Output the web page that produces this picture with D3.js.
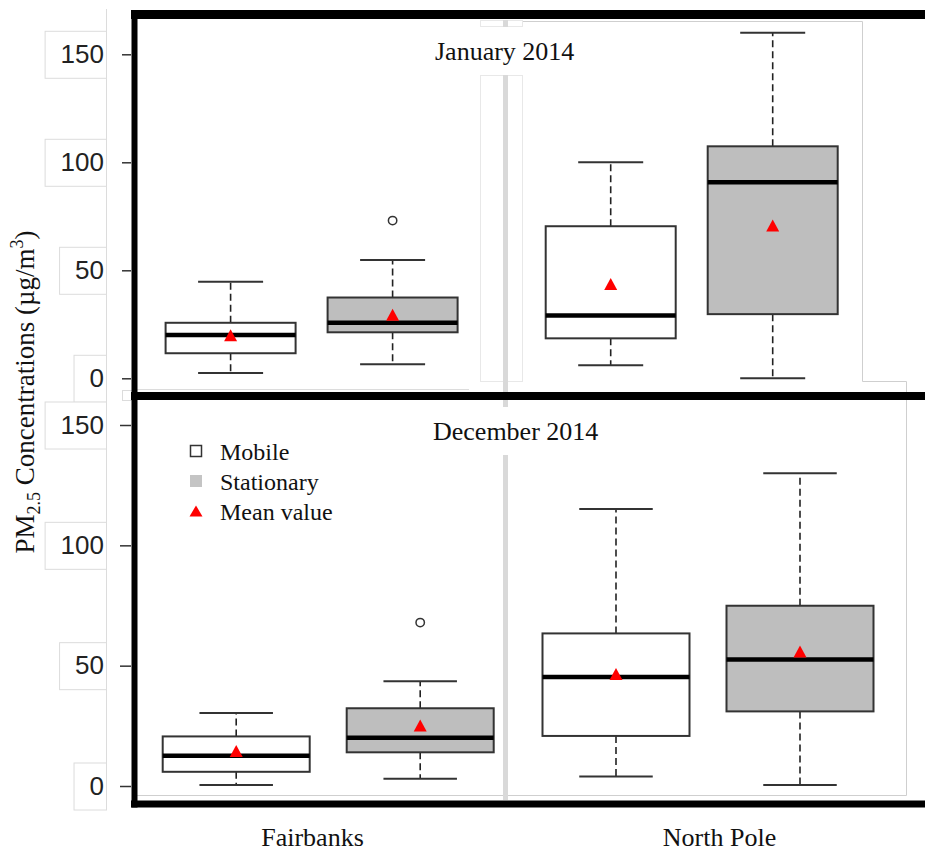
<!DOCTYPE html>
<html>
<head>
<meta charset="utf-8">
<script src="https://cdn.jsdelivr.net/npm/d3@7"></script>
<style>
  html, body { margin: 0; padding: 0; background: #fff; }
  svg { display: block; }
</style>
</head>
<body>
<svg id="chart" width="925" height="851"></svg>
<script>
// PM2.5 box plot statistics (µg/m3).
// Each array is ordered: Fairbanks Mobile, Fairbanks Stationary, North Pole Mobile, North Pole Stationary.
const sites = ["Fairbanks", "North Pole"];
const series = ["Mobile", "Stationary"];
const periods = ["January 2014", "December 2014"];
const yTicks = [0, 50, 100, 150];
const legendLabels = ["Mobile", "Stationary", "Mean value"];

const janLow      = [2.4, 6.5, 6.0, 0.0];
const janQ1       = [11.6, 21.3, 18.5, 29.7];
const janMedian   = [20.0, 25.7, 29.1, 90.8];
const janQ3       = [25.7, 37.4, 70.4, 107.4];
const janHigh     = [44.7, 54.8, 100.0, 160.0];
const janMean     = [19.9, 29.4, 43.6, 70.7];
const janOutliers = [[], [73.0], [], []];

const decLow      = [0.4, 3.0, 3.9, 0.4];
const decQ1       = [5.9, 14.0, 20.8, 31.0];
const decMedian   = [12.6, 20.1, 45.3, 52.6];
const decQ3       = [20.6, 32.3, 63.4, 74.9];
const decHigh     = [30.3, 43.5, 115.1, 129.9];
const decMean     = [14.5, 25.1, 46.5, 55.9];
const decOutliers = [[], [67.9], [], []];

// Build box records from the arrays above
function buildBoxes(low, q1, med, q3, high, mean, outl) {
  const out = [];
  let i = 0;
  sites.forEach(site => {
    series.forEach(s => {
      out.push({ site, series: s, low: low[i], q1: q1[i], median: med[i], q3: q3[i],
                 high: high[i], mean: mean[i], outliers: outl[i] });
      i++;
    });
  });
  return out;
}

const panelData = [
  buildBoxes(janLow, janQ1, janMedian, janQ3, janHigh, janMean, janOutliers),
  buildBoxes(decLow, decQ1, decMedian, decQ3, decHigh, decMean, decOutliers)
];

// Layout of the two stacked panels
const panels = [
  { yRange: [378.3, 54.3], siteRange: [311.6, 691.7], offset: 81, boxW: 130, tick: 9,
    titleX: 435, titleY: 60, titleBox: [27, 75] },
  { yRange: [786, 425], siteRange: [328.2, 708], offset: 92, boxW: 147, tick: 11,
    titleX: 433, titleY: 440, titleBox: [407, 455] }
];

const svg = d3.select("#chart");
const serif = "'Liberation Serif', 'Times New Roman', serif";
const sans = "'Liberation Sans', Arial, sans-serif";
const fillStat = "#bebebe";
const edge = "#333";
const faint = "#dcdcdc";
const fainter = "#e8e8e8";

// Faint frame lines around the plotting regions
const deco = svg.append("g").attr("fill", "none").attr("stroke", faint).attr("stroke-width", 1);
deco.append("line").attr("x1", 106.5).attr("x2", 106.5).attr("y1", 9).attr("y2", 806);
deco.append("polyline").attr("points", "522,21.5 862.5,21.5 862.5,381.5 906.5,381.5 906.5,795.5 137,795.5")
  .attr("stroke", "#cfcfcf");
deco.append("line").attr("x1", 137).attr("x2", 469).attr("y1", 389.5).attr("y2", 389.5);
deco.append("rect").attr("x", 480.5).attr("y", 20.5).attr("width", 42).attr("height", 6).attr("stroke", fainter);
deco.append("rect").attr("x", 480.5).attr("y", 75.5).attr("width", 42).attr("height", 306).attr("stroke", fainter);
deco.append("rect").attr("x", 122.5).attr("y", 390.5).attr("width", 10).attr("height", 10);

// Light grey divider between the two sites
svg.append("line")
  .attr("x1", 505.5).attr("x2", 505.5).attr("y1", 20).attr("y2", 800)
  .attr("stroke", "#d9d9d9").attr("stroke-width", 5);

panels.forEach((p, pi) => {
  const y = d3.scaleLinear().domain([0, 150]).range(p.yRange);
  const xSite = d3.scalePoint().domain(sites).range(p.siteRange);
  const xSeries = d3.scalePoint().domain(series).range([-p.offset, p.offset]);
  const cx = d => xSite(d.site) + xSeries(d.series);
  const hw = p.boxW / 2;
  const cw = p.boxW / 4;

  // Period title on a white backing
  const title = svg.append("g");
  const tb = title.append("rect").attr("fill", "#fff");
  const tt = title.append("text")
    .attr("x", p.titleX).attr("y", p.titleY)
    .style("font-family", serif).style("font-size", "26px").attr("fill", "#111")
    .text(periods[pi]);
  const bb = tt.node().getBBox();
  tb.attr("x", bb.x - 6).attr("width", bb.width + 12)
    .attr("y", p.titleBox[0]).attr("height", p.titleBox[1] - p.titleBox[0]);

  // Y axis
  const axis = svg.append("g")
    .attr("transform", "translate(131,0)")
    .call(d3.axisLeft(y).tickValues(yTicks).tickSizeInner(p.tick).tickSizeOuter(0)
      .tickPadding(27 - p.tick).tickFormat(d3.format("d")));
  axis.select(".domain").remove();
  axis.selectAll(".tick line").attr("stroke", edge).attr("stroke-width", 1.5);
  axis.selectAll(".tick text")
    .style("font-family", sans).style("font-size", "26px").attr("fill", "#222");
  // Faint boxes behind the tick labels
  axis.selectAll(".tick").each(function () {
    const t = d3.select(this).select("text").node().getBBox();
    d3.select(this).insert("rect", ":first-child")
      .attr("x", t.x - 16 + 0.5).attr("y", -24 + 0.5)
      .attr("width", (106 - 131) - (t.x - 16)).attr("height", 47)
      .attr("fill", "#fff").attr("stroke", faint).attr("stroke-width", 1);
  });

  const g = svg.append("g");
  const boxes = g.selectAll("g.box").data(panelData[pi]).join("g").attr("class", "box");

  // Dashed whiskers
  boxes.append("line")
    .attr("x1", cx).attr("x2", cx)
    .attr("y1", d => y(d.q3)).attr("y2", d => y(d.high))
    .attr("stroke", "#222").attr("stroke-width", 1.6).attr("stroke-dasharray", "7,4");
  boxes.append("line")
    .attr("x1", cx).attr("x2", cx)
    .attr("y1", d => y(d.q1)).attr("y2", d => y(d.low))
    .attr("stroke", "#222").attr("stroke-width", 1.6).attr("stroke-dasharray", "7,4");
  // Whisker caps
  boxes.append("line")
    .attr("x1", d => cx(d) - cw).attr("x2", d => cx(d) + cw)
    .attr("y1", d => y(d.high)).attr("y2", d => y(d.high))
    .attr("stroke", edge).attr("stroke-width", 2);
  boxes.append("line")
    .attr("x1", d => cx(d) - cw).attr("x2", d => cx(d) + cw)
    .attr("y1", d => y(d.low)).attr("y2", d => y(d.low))
    .attr("stroke", edge).attr("stroke-width", 2);
  // Interquartile box
  boxes.append("rect")
    .attr("x", d => cx(d) - hw).attr("width", p.boxW)
    .attr("y", d => y(d.q3)).attr("height", d => y(d.q1) - y(d.q3))
    .attr("fill", d => d.series === "Stationary" ? fillStat : "#fff")
    .attr("stroke", edge).attr("stroke-width", 2);
  // Median
  boxes.append("line")
    .attr("x1", d => cx(d) - hw).attr("x2", d => cx(d) + hw)
    .attr("y1", d => y(d.median)).attr("y2", d => y(d.median))
    .attr("stroke", "#000").attr("stroke-width", 4.5);
  // Mean
  boxes.append("path")
    .attr("d", d => {
      const x0 = cx(d), y0 = y(d.mean);
      return `M${x0 - 6.5},${y0 + 6}L${x0 + 6.5},${y0 + 6}L${x0},${y0 - 6}Z`;
    })
    .attr("fill", "#ff0000");
  // Outliers
  boxes.selectAll("circle").data(d => d.outliers.map(v => ({ v, x: cx(d) }))).join("circle")
    .attr("cx", o => o.x).attr("cy", o => y(o.v)).attr("r", 4.2)
    .attr("fill", "#fff").attr("stroke", edge).attr("stroke-width", 1.5);
});

// Legend in the lower panel
const legend = svg.append("g").attr("transform", "translate(196,451)");
const rowGap = 30;
legendLabels.forEach((lab, i) => {
  const row = legend.append("g").attr("transform", `translate(0,${i * rowGap})`);
  if (i === 0) {
    row.append("rect").attr("x", -5.5).attr("y", -5.5).attr("width", 11).attr("height", 11)
      .attr("fill", "#fff").attr("stroke", edge).attr("stroke-width", 1.5);
  } else if (i === 1) {
    row.append("rect").attr("x", -6).attr("y", -6).attr("width", 12).attr("height", 12)
      .attr("fill", "#c4c4c4");
  } else {
    row.append("path").attr("d", "M-6.5,5.5L6.5,5.5L0,-5.5Z").attr("fill", "#ff0000");
  }
  row.append("text").attr("x", 24).attr("y", 9)
    .style("font-family", serif).style("font-size", "24px").attr("fill", "#111")
    .text(lab);
});

// Site labels along the bottom
const xLabel = d3.scalePoint().domain(sites).range([312.5, 719.5]);
svg.append("g").selectAll("text").data(sites).join("text")
  .attr("x", d => xLabel(d)).attr("y", 846)
  .attr("text-anchor", "middle")
  .style("font-family", serif).style("font-size", "26px").attr("fill", "#111")
  .text(d => d);

// Y axis title with subscript and superscript
const yt = svg.append("text")
  .attr("transform", "translate(34,392) rotate(-90)")
  .attr("text-anchor", "middle")
  .style("font-family", serif).style("font-size", "27px").attr("fill", "#111");
yt.append("tspan").text("PM");
yt.append("tspan").attr("dy", 6).style("font-size", "18px").text("2.5");
yt.append("tspan").attr("dy", -6).text(" Concentrations (µg/m");
yt.append("tspan").attr("dy", -11).style("font-size", "18px").text("3");
yt.append("tspan").attr("dy", 11).text(")");

// Heavy black panel borders
const borders = svg.append("g").attr("stroke", "#000");
borders.append("line").attr("x1", 131).attr("x2", 925).attr("y1", 14.5).attr("y2", 14.5).attr("stroke-width", 9);
borders.append("line").attr("x1", 131).attr("x2", 925).attr("y1", 396).attr("y2", 396).attr("stroke-width", 8);
borders.append("line").attr("x1", 131).attr("x2", 925).attr("y1", 804).attr("y2", 804).attr("stroke-width", 7);
borders.append("line").attr("x1", 134.5).attr("x2", 134.5).attr("y1", 10).attr("y2", 807.5).attr("stroke-width", 6);
</script>
</body>
</html>
